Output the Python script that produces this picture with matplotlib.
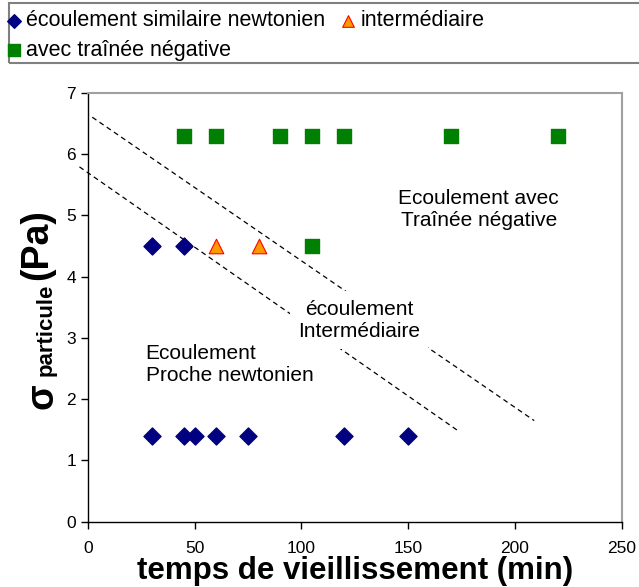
import matplotlib.pyplot as plt
from matplotlib.patches import Rectangle

plt.rcParams['font.family'] = ['Liberation Sans', 'DejaVu Sans']

# data
newt_x = [30, 45, 30, 45, 50, 60, 75, 120, 150]
newt_y = [4.5, 4.5, 1.4, 1.4, 1.4, 1.4, 1.4, 1.4, 1.4]
inter_x = [60, 80]
inter_y = [4.5, 4.5]
neg_x = [45, 60, 90, 105, 120, 170, 220, 105]
neg_y = [6.3, 6.3, 6.3, 6.3, 6.3, 6.3, 6.3, 4.5]

# boundary lines (dashed)
upper_x = [2, 209]
upper_y = [6.6, 1.65]
lower_x = [-4, 173.5]
lower_y = [5.79, 1.48]

W, H = 639, 587
fig = plt.figure(figsize=(W / 100, H / 100), dpi=100)
ax = fig.add_axes([88 / W, 1 - 521.7 / H, (621.7 - 88) / W, (521.7 - 92.7) / H])

ax.plot(upper_x, upper_y, ls=(0, (4, 3)), color='black', lw=0.9, zorder=1)
ax.plot(lower_x, lower_y, ls=(0, (4, 3)), color='black', lw=0.9, zorder=1, clip_on=False)

h1 = ax.scatter(newt_x, newt_y, marker='D', s=75, color='#000080', zorder=3,
                label='écoulement similaire newtonien')
h2 = ax.scatter(inter_x, inter_y, marker='^', s=110, facecolor='#FF9900', edgecolor='#FF0000',
                linewidth=0.8, zorder=3, label='intermédiaire')
h3 = ax.scatter(neg_x, neg_y, marker='s', s=110, color='#008000', zorder=3,
                label='avec traînée négative')

ax.set_xlim(0, 250)
ax.set_ylim(0, 7)
ax.set_xticks(range(0, 251, 50))
ax.set_yticks(range(0, 8))
ax.tick_params(labelsize=12.5, direction='out', length=5, width=1, color='black')
ax.tick_params(axis='x', pad=9)
for s in ['top', 'right']:
    ax.spines[s].set_color('#a0a0a0')
    ax.spines[s].set_linewidth(1.5)
for s in ['left', 'bottom']:
    ax.spines[s].set_color('black')
    ax.spines[s].set_linewidth(1)

ax.set_xlabel('temps de vieillissement (min)', fontsize=22.5, fontweight='bold', labelpad=0)

# y label built from three pieces (sigma, subscript, unit)
fig.text(42 / W, 1 - 396 / H, 'σ', rotation=90, fontsize=27, fontweight='bold',
         ha='center', va='center')
fig.text(46 / W, 1 - 330 / H, 'particule', rotation=90, fontsize=16, fontweight='bold',
         ha='center', va='center')
fig.text(37 / W, 1 - 245 / H, '(Pa)', rotation=90, fontsize=27, fontweight='bold',
         ha='center', va='center')

# region annotations
ax.text(183, 5.09, 'Ecoulement avec\nTraînée négative', fontsize=15, ha='center', va='center',
        linespacing=1.2, zorder=4)
ax.text(127, 3.29, 'écoulement\nIntermédiaire', fontsize=15, ha='center', va='center',
        linespacing=1.2, zorder=4,
        bbox=dict(facecolor='white', edgecolor='none', boxstyle='square,pad=0.4'))
ax.text(27, 2.56, 'Ecoulement\nProche newtonien', fontsize=15, ha='left', va='center',
        multialignment='left', linespacing=1.2, zorder=4)

# legend at top, framed box running to the right edge
leg = fig.legend(handles=[h1, h3, h2], ncol=2, loc='upper left',
                 bbox_to_anchor=(-12 / W, 1 + 7 / H), frameon=False, fontsize=15.5,
                 handletextpad=0.15, columnspacing=0.7, labelspacing=0.4,
                 handlelength=0.8, borderpad=0.3, markerscale=0.8)
fig.add_artist(Rectangle((9 / W, 1 - 63 / H), 1.0, 60 / H, transform=fig.transFigure,
                         fill=False, edgecolor='#808080', lw=1.5))

fig.savefig('out.png', dpi=100)
